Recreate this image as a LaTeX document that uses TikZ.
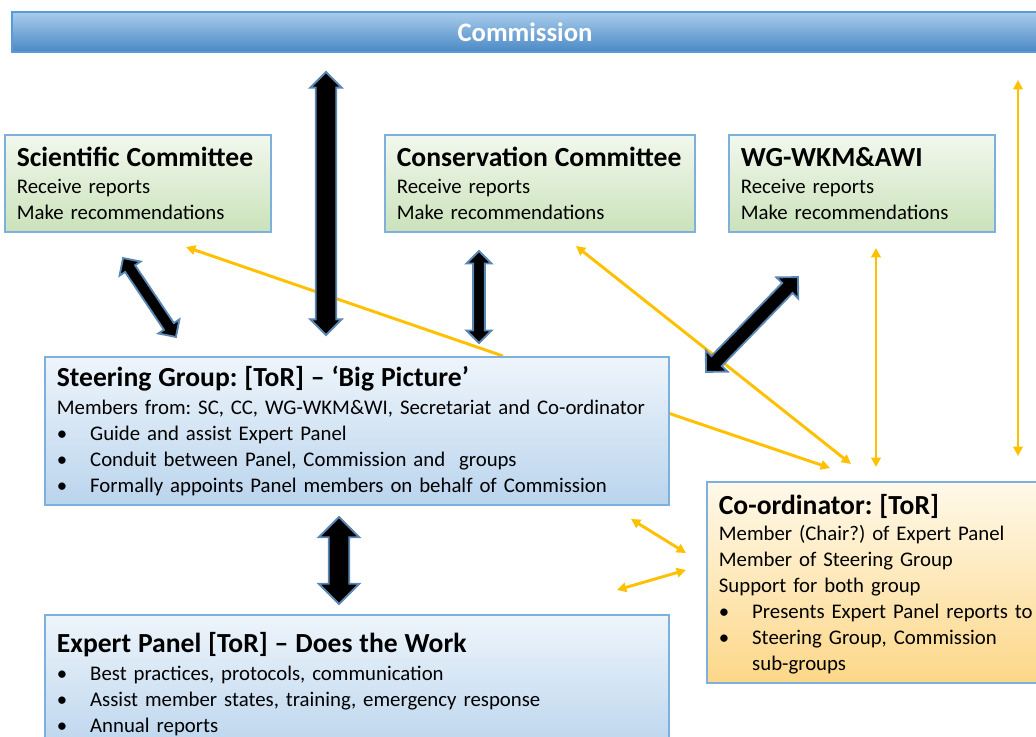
\documentclass[tikz,border=0pt]{standalone}
\usepackage{fontspec}
\setmainfont{Carlito}
\usetikzlibrary{arrows.meta,shapes.arrows,calc}
\frenchspacing

\definecolor{barlight}{HTML}{A9CCEC}
\definecolor{bardark}{HTML}{4A89C5}
\definecolor{barline}{HTML}{5B9BD5}
\definecolor{edge}{HTML}{7DB0DD}
\definecolor{greentop}{HTML}{F2F8EE}
\definecolor{greenbot}{HTML}{CAE2BA}
\definecolor{bluetop}{HTML}{EEF5FB}
\definecolor{bluebot}{HTML}{BAD4ED}
\definecolor{goldtop}{HTML}{FFF9EA}
\definecolor{goldbot}{HTML}{FCD788}
\definecolor{gold}{HTML}{FFC000}
\definecolor{fatedge}{HTML}{5A87B4}

\newcommand\hd[1]{{\fontsize{20.7}{24}\selectfont\bfseries #1}}
\newcommand\bul{\makebox[25pt][l]{\textbullet}}
% thick double arrow: name, from, to, half shaft, head extend
\newcommand\fatarrow[5]{%
  \path let \p1=($(#3)-(#2)$) in
    ($(#2)!0.5!(#3)$) node[fat, inner ysep=#4, double arrow head extend=#5,
      minimum height={veclen(\x1,\y1)}, rotate={atan2(\y1,\x1)}] (#1) {};}

\begin{document}
\begin{tikzpicture}[x=0.75pt,y=-0.75pt,>={Triangle[length=7pt,width=7pt]},
  box/.style={draw=edge,line width=1.3pt,anchor=north west,align=left,
    inner xsep=9pt,inner ysep=0pt,font=\fontsize{15.6}{19.5}\selectfont},
  greenbox/.style={box,top color=greentop,bottom color=greenbot},
  bluebox/.style={box,top color=bluetop,bottom color=bluebot},
  goldbox/.style={box,top color=goldtop,bottom color=goldbot},
  barbox/.style={draw=barline,line width=1.3pt,top color=barlight,bottom color=bardark,
    minimum width=769.5pt,minimum height=30pt,text=white,
    font=\fontsize{20}{24}\selectfont\bfseries},
  fat/.style={double arrow,draw=fatedge,fill=black,line width=1.4pt,
    inner xsep=0pt,minimum width=0pt},
  yline/.style={draw=gold,line width=2.2pt}]
\useasboundingbox (0,0) rectangle (1036,736);

% ends of the yellow links
\coordinate (y1a) at (503,356);  \coordinate (y1b) at (186,247);
\coordinate (y2a) at (576,246);  \coordinate (y2b) at (851,464);
\coordinate (y3a) at (668,413);  \coordinate (y3b) at (830,468);
\coordinate (y4a) at (876,248);  \coordinate (y4b) at (876,467);
\coordinate (y5a) at (1018,80);  \coordinate (y5b) at (1018,456);
\coordinate (y6a) at (631,519);  \coordinate (y6b) at (686,553);
\coordinate (y7a) at (617,590);  \coordinate (y7b) at (686,570);

\draw[yline,->] (y1a) -- (y1b);
\draw[yline,<->] (y2a) -- (y2b);
\draw[yline,->] (y3a) -- (y3b);
\draw[yline,<->] (y4a) -- (y4b);
\draw[yline,<->] (y5a) -- (y5b);
\draw[yline,<->] (y6a) -- (y6b);
\draw[yline,<->] (y7a) -- (y7b);

\node[barbox] (comm) at (525,32) {Commission};

\node[greenbox,minimum width=199.5pt,minimum height=72.75pt,text width=181.5pt] (sc) at (4,134)
  {\hd{Scientific Committee}\\[1pt]Receive reports\\Make recommendations};
\node[greenbox,minimum width=232.5pt,minimum height=72.75pt,text width=214.5pt] (cc) at (384,134)
  {\hd{Conservation Committee}\\[1pt]Receive reports\\Make recommendations};
\node[greenbox,minimum width=199.5pt,minimum height=72.75pt,text width=181.5pt] (wg) at (728,134)
  {\hd{WG-WKM\&AWI}\\[1pt]Receive reports\\Make recommendations};

\node[bluebox,minimum width=468pt,minimum height=111pt,text width=450pt] (sg) at (44,356)
  {\hd{Steering Group: [ToR] – ‘Big Picture’}\\[1pt]
   \mbox{Members from: SC, CC, WG-WKM\&WI, Secretariat and Co-ordinator}\\
   \bul Guide and assist Expert Panel\\
   \bul Conduit between Panel, Commission and\ \ groups\\
   \bul Formally appoints Panel members on behalf of Commission};

\node[bluebox,minimum width=468pt,minimum height=104pt,text width=450pt] (ep) at (44,614)
  {\hd{Expert Panel [ToR] – Does the Work}\\[1pt]
   \bul Best practices, protocols, communication\\
   \bul Assist member states, training, emergency response\\
   \bul Annual reports};

\node[goldbox,minimum width=258.75pt,minimum height=150.75pt,text width=240.75pt] (coord) at (706,481)
  {\hd{Co-ordinator: [ToR]}\rule{0pt}{18pt}\\
   Member (Chair?) of Expert Panel\\
   Member of Steering Group\\
   Support for both group\\
   \bul Presents Expert Panel reports to\\
   \bul Steering Group, Commission\\
   \hspace*{25pt}sub-groups};

% ends of the thick arrows
\coordinate (f1a) at (326,72);   \coordinate (f1b) at (326,335);
\coordinate (f2a) at (123,258);  \coordinate (f2b) at (176,337);
\coordinate (f3a) at (479,251);  \coordinate (f3b) at (479,343);
\coordinate (f4a) at (798,277);  \coordinate (f4b) at (706,372);
\coordinate (f5a) at (339,517);  \coordinate (f5b) at (339,604);

\fatarrow{commsg}{f1a}{f1b}{7pt}{4pt}
\fatarrow{scsg}{f2a}{f2b}{3.8pt}{5pt}
\fatarrow{ccsg}{f3a}{f3b}{3.7pt}{5pt}
\fatarrow{wgsg}{f4a}{f4b}{4.7pt}{6pt}
\fatarrow{sgep}{f5a}{f5b}{7pt}{7.5pt}

\end{tikzpicture}
\end{document}
